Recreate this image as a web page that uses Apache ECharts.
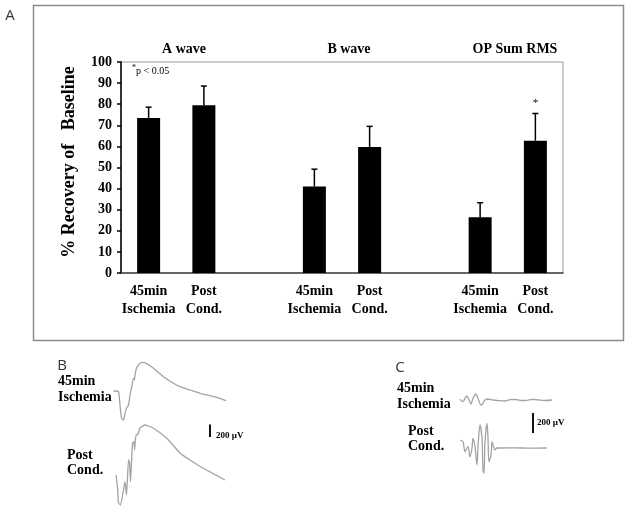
<!DOCTYPE html>
<html>
<head>
<meta charset="utf-8">
<script src="https://cdn.jsdelivr.net/npm/echarts@6/dist/echarts.min.js"></script>
<style>
html,body{margin:0;padding:0;background:#fff;}
#chart{width:635px;height:513px;}
</style>
</head>
<body>
<div id="chart"></div>
<script>
// ---------- Panel A data ----------
const groups = ['A wave', 'B wave', 'OP Sum RMS'];
const conditionLabels = ['45min\nIschemia', 'Post\nCond.'];
const ischemiaMean = [73.5, 41.0, 26.4];
const ischemiaSem  = [5.1, 8.2, 6.9];
const postCondMean = [79.5, 59.7, 62.7];
const postCondSem  = [9.1, 9.8, 12.9];
const postCondSig  = ['', '', '*'];
const yMin = 0, yMax = 100, yStep = 10;

// ---------- Panel B traces: [time ms, amplitude µV] ----------
const bIschemiaTrace = [[7,0],[17,-10],[20,-224],[23,-437],[27,-464],[30,-357],[33,-277],[37,-224],[40,-64],[43,48],[47,203],[49,176],[50,256],[53,363],[57,416],[63,459],[73,443],[87,363],[107,229],[127,123],[140,69],[160,16],[180,-37],[200,-75],[220,-117],[232,-155]];
const bPostCondTrace = [[12,0],[15,-192],[17,-448],[21,-480],[27,-240],[30,-107],[33,-320],[37,240],[39,208],[41,-107],[45,512],[48,533],[49,400],[52,640],[54,640],[57,672],[60,752],[70,800],[86,752],[113,592],[140,352],[166,208],[193,80],[230,-80]];
const bScaleBar = [[200,608],[200,808]]; // 200 µV

// ---------- Panel C traces (oscillatory potentials) ----------
const cIschemiaTrace = [[5,7],[8,-17],[10,17],[12,40],[14,0],[16,-40],[18,17],[21,60],[23,17],[26,-50],[28,-33],[30,0],[33,10],[38,0],[44,-6],[50,-10],[55,4],[60,5],[65,-3],[70,-5],[75,3],[80,5],[85,-2],[90,-5],[97,0]];
const cPostCondTrace = [[5,80],[8,63],[10,-37],[12,0],[13,13],[15,-87],[17,0],[18,97],[20,13],[22,-170],[23,13],[25,230],[27,97],[28,-220],[29,-253],[30,63],[32,247],[33,97],[34,-137],[36,-70],[37,63],[38,30],[40,-20],[42,0],[45,0],[60,2],[75,-2],[92,0]];
const cScaleBar = [[78,150],[78,350]]; // 200 µV
const scaleLabel = '200 µV';

// ---------- build category table ----------
const categories = [], barValues = [], errData = [], sigByIndex = [];
groups.forEach((g, gi) => {
  if (gi > 0) { categories.push(''); barValues.push(null); }
  const i0 = categories.length;
  categories.push(conditionLabels[0]); barValues.push(ischemiaMean[gi]);
  errData.push([i0, ischemiaMean[gi], ischemiaMean[gi] + ischemiaSem[gi]]); sigByIndex.push('');
  categories.push(conditionLabels[1]); barValues.push(postCondMean[gi]);
  errData.push([i0 + 1, postCondMean[gi], postCondMean[gi] + postCondSem[gi]]); sigByIndex.push(postCondSig[gi]);
});

const serif = '"Liberation Serif", "Times New Roman", serif';
const traceColor = '#a3a3a3';

const chart = echarts.init(document.getElementById('chart'), null, {renderer: 'canvas'});

function hiddenAxis(gridIndex, min, max) {
  return {type: 'value', gridIndex, min, max, show: false, splitLine: {show: false}};
}

const option = {
  animation: false,
  backgroundColor: '#fff',
  grid: [
    {left: 121, right: 72, top: 62, bottom: 240, show: true, borderColor: '#9a9a9a', borderWidth: 1},
    {left: 110, width: 120, top: 355, height: 72},
    {left: 110, width: 120, top: 415, height: 92},
    {left: 455, width: 110, top: 385, height: 30},
    {left: 455, width: 110, top: 410, height: 65}
  ],
  xAxis: [
    {type: 'category', gridIndex: 0, data: categories,
     axisLine: {lineStyle: {color: '#444', width: 1.5}}, axisTick: {show: false},
     axisLabel: {interval: 0, margin: 9, color: '#000', fontFamily: serif, fontWeight: 'bold', fontSize: 14, lineHeight: 18}},
    hiddenAxis(1, 0, 240),
    hiddenAxis(2, 0, 240),
    hiddenAxis(3, 0, 110),
    hiddenAxis(4, 0, 110)
  ],
  yAxis: [
    {type: 'value', gridIndex: 0, min: yMin, max: yMax, interval: yStep,
     axisLine: {show: true, lineStyle: {color: '#000', width: 1.5}},
     axisTick: {show: true, length: 4, lineStyle: {color: '#000', width: 1.5}},
     splitLine: {show: false},
     axisLabel: {margin: 9, color: '#000', fontFamily: serif, fontWeight: 'bold', fontSize: 14}},
    hiddenAxis(1, -576, 576),
    hiddenAxis(2, -512, 960),
    hiddenAxis(3, -150, 150),
    hiddenAxis(4, -270, 380)
  ],
  series: [
    {type: 'bar', xAxisIndex: 0, yAxisIndex: 0, data: barValues, barWidth: 23,
     itemStyle: {color: '#000'}, silent: true},
    {type: 'custom', xAxisIndex: 0, yAxisIndex: 0, data: errData, silent: true, z: 5,
     renderItem: function (params, api) {
       const x = api.value(0);
       const lo = api.coord([x, api.value(1)]);
       const hi = api.coord([x, api.value(2)]);
       const st = {stroke: '#000', lineWidth: 1.5};
       const children = [
         {type: 'line', shape: {x1: lo[0], y1: lo[1], x2: hi[0], y2: hi[1]}, style: st},
         {type: 'line', shape: {x1: hi[0] - 3, y1: hi[1], x2: hi[0] + 3, y2: hi[1]}, style: st}
       ];
       const s = sigByIndex[params.dataIndex];
       if (s) children.push({type: 'text', style: {text: s, x: hi[0], y: hi[1] - 10, textAlign: 'center', textVerticalAlign: 'middle', font: '11px ' + serif, fill: '#000'}});
       return {type: 'group', children};
     }},
    {type: 'line', xAxisIndex: 1, yAxisIndex: 1, data: bIschemiaTrace, showSymbol: false, smooth: 0.15,
     lineStyle: {color: traceColor, width: 1.3}},
    {type: 'line', xAxisIndex: 2, yAxisIndex: 2, data: bPostCondTrace, showSymbol: false, smooth: 0.15,
     lineStyle: {color: traceColor, width: 1.3}},
    {type: 'line', xAxisIndex: 2, yAxisIndex: 2, data: bScaleBar, showSymbol: false,
     lineStyle: {color: '#111', width: 2}},
    {type: 'line', xAxisIndex: 3, yAxisIndex: 3, data: cIschemiaTrace, showSymbol: false, smooth: 0.3,
     lineStyle: {color: traceColor, width: 1.3}},
    {type: 'line', xAxisIndex: 4, yAxisIndex: 4, data: cPostCondTrace, showSymbol: false, smooth: 0.3,
     lineStyle: {color: traceColor, width: 1.3}},
    {type: 'line', xAxisIndex: 4, yAxisIndex: 4, data: cScaleBar, showSymbol: false,
     lineStyle: {color: '#111', width: 2}}
  ],
  graphic: [
    {type: 'rect', shape: {x: 33.5, y: 5.5, width: 590, height: 335}, style: {fill: 'none', stroke: '#8c8c8c', lineWidth: 1.5}, z: -1},
    {type: 'text', style: {text: 'A', x: 10, y: 16, textAlign: 'center', textVerticalAlign: 'middle', font: '15px "Open Sans", "Liberation Sans", sans-serif', fill: '#333'}},
    {type: 'text', style: {text: 'B', x: 62, y: 366, textAlign: 'center', textVerticalAlign: 'middle', font: '15px "Open Sans", "Liberation Sans", sans-serif', fill: '#333'}},
    {type: 'text', style: {text: 'C', x: 400, y: 368, textAlign: 'center', textVerticalAlign: 'middle', font: '15px "Open Sans", "Liberation Sans", sans-serif', fill: '#333'}},
    {type: 'text', style: {text: groups[0], x: 184, y: 49, textAlign: 'center', textVerticalAlign: 'middle', font: 'bold 14px ' + serif, fill: '#000'}},
    {type: 'text', style: {text: groups[1], x: 349, y: 49, textAlign: 'center', textVerticalAlign: 'middle', font: 'bold 14px ' + serif, fill: '#000'}},
    {type: 'text', style: {text: groups[2], x: 515, y: 49, textAlign: 'center', textVerticalAlign: 'middle', font: 'bold 14px ' + serif, fill: '#000'}},
    {type: 'text', rotation: Math.PI / 2, x: 69, y: 162,
     style: {text: '% Recovery of   Baseline', x: 0, y: 0, textAlign: 'center', textVerticalAlign: 'middle', font: 'bold 18px ' + serif, fill: '#000'}},
    {type: 'text', style: {text: '*', x: 132, y: 68, textAlign: 'left', textVerticalAlign: 'middle', font: '8px ' + serif, fill: '#000'}},
    {type: 'text', style: {text: 'p < 0.05', x: 136, y: 71, textAlign: 'left', textVerticalAlign: 'middle', font: '10px ' + serif, fill: '#000'}},
    {type: 'text', style: {text: '45min\nIschemia', x: 58, y: 389, textAlign: 'left', textVerticalAlign: 'middle', font: 'bold 14px ' + serif, fill: '#000', lineHeight: 16}},
    {type: 'text', style: {text: 'Post\nCond.', x: 67, y: 463, textAlign: 'left', textVerticalAlign: 'middle', font: 'bold 14px ' + serif, fill: '#000', lineHeight: 15}},
    {type: 'text', style: {text: scaleLabel, x: 216, y: 436, textAlign: 'left', textVerticalAlign: 'middle', font: 'bold 9px ' + serif, fill: '#000'}},
    {type: 'text', style: {text: '45min\nIschemia', x: 397, y: 396, textAlign: 'left', textVerticalAlign: 'middle', font: 'bold 14px ' + serif, fill: '#000', lineHeight: 16}},
    {type: 'text', style: {text: 'Post\nCond.', x: 408, y: 439, textAlign: 'left', textVerticalAlign: 'middle', font: 'bold 14px ' + serif, fill: '#000', lineHeight: 15}},
    {type: 'text', style: {text: scaleLabel, x: 537, y: 423, textAlign: 'left', textVerticalAlign: 'middle', font: 'bold 9px ' + serif, fill: '#000'}}
  ]
};
chart.setOption(option);
</script>
</body>
</html>
